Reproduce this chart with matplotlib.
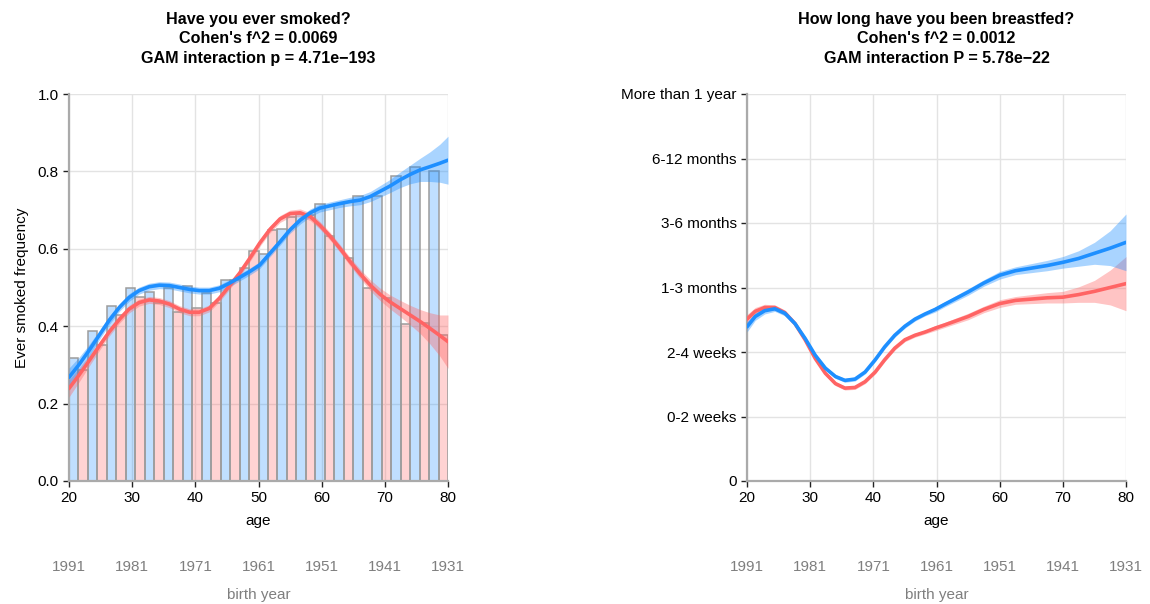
import numpy as np
import matplotlib
matplotlib.use("Agg")
import matplotlib.pyplot as plt

plt.rcParams['font.family'] = ['Liberation Sans', 'DejaVu Sans']

# ---------------- data: left panel ----------------
bin_starts = [20, 23, 26, 29, 32, 35, 38, 41, 44, 47, 50, 53, 56, 59, 62, 65, 68, 71, 74, 77]
bar_blue = [0.317, 0.388, 0.452, 0.500, 0.489, 0.498, 0.504, 0.485, 0.519, 0.550,
            0.587, 0.650, 0.690, 0.716, 0.716, 0.737, 0.736, 0.788, 0.812, 0.802]
bar_pink = [0.287, 0.351, 0.430, 0.475, 0.460, 0.437, 0.448, 0.459, 0.520, 0.594,
            0.649, 0.683, 0.687, 0.633, 0.575, 0.498, 0.472, 0.406, 0.409, 0.377]

smk_age = [20, 21.6, 23.2, 24.8, 26.4, 28, 29.5, 31.1, 32.7, 34.3, 35.9, 37.5, 39.1, 40.6,
           42.2, 43.8, 45.4, 47, 48.6, 50.2, 51.8, 53.4, 55, 56.6, 58.2, 59.7, 61.3, 62.9,
           64.5, 66.1, 67.7, 69.2, 70.8, 72.4, 74, 75.6, 77.1, 78.7, 80]
smk_blue = [0.268, 0.301, 0.338, 0.377, 0.416, 0.449, 0.474, 0.492, 0.502, 0.506, 0.505,
            0.500, 0.495, 0.492, 0.492, 0.498, 0.511, 0.526, 0.541, 0.558, 0.588, 0.618,
            0.649, 0.674, 0.693, 0.705, 0.711, 0.717, 0.722, 0.726, 0.735, 0.748, 0.762,
            0.778, 0.792, 0.804, 0.812, 0.821, 0.829]
smk_blue_ci = [0.024, 0.019, 0.015, 0.012, 0.011, 0.010, 0.010,
               0.009, 0.009, 0.009, 0.009, 0.009, 0.009, 0.009, 0.009,
               0.009, 0.009, 0.009, 0.009, 0.009, 0.009, 0.009, 0.009,
               0.010, 0.010, 0.010, 0.010, 0.010,
               0.011, 0.012, 0.013, 0.015, 0.017, 0.020, 0.024, 0.030, 0.038, 0.049, 0.062]
smk_red = [0.239, 0.274, 0.311, 0.349, 0.386, 0.418, 0.444, 0.461, 0.468, 0.465, 0.457,
           0.444, 0.436, 0.436, 0.446, 0.472, 0.504, 0.537, 0.575, 0.615, 0.650, 0.677,
           0.691, 0.693, 0.683, 0.661, 0.633, 0.601, 0.567, 0.535, 0.506, 0.483, 0.463,
           0.446, 0.429, 0.412, 0.395, 0.376, 0.360]
smk_red_ci = [0.022, 0.018, 0.014, 0.012, 0.011, 0.010, 0.010,
              0.009, 0.009, 0.009, 0.009, 0.009, 0.009, 0.009, 0.009,
              0.009, 0.009, 0.009, 0.009, 0.009, 0.009, 0.009, 0.009,
              0.010, 0.010, 0.010, 0.010, 0.010,
              0.011, 0.012, 0.014, 0.016, 0.018, 0.021, 0.025, 0.031, 0.040, 0.053, 0.069]

# ---------------- data: right panel ----------------
bf_age = [20, 21.3, 22.8, 24.4, 26, 27.6, 29.2, 30.8, 32.4, 34, 35.5, 37.1, 38.7, 40.3,
          41.8, 43.4, 45, 46.6, 48.2, 49.8, 51.3, 55, 57.5, 60, 62.5, 65, 67.5, 70, 72.5,
          75, 77.5, 80]
bf_blue = [2.39, 2.55, 2.64, 2.67, 2.60, 2.44, 2.21, 1.95, 1.75, 1.62, 1.56, 1.58, 1.69,
           1.88, 2.08, 2.26, 2.40, 2.51, 2.59, 2.66, 2.74, 2.93, 3.07, 3.19, 3.26, 3.30,
           3.34, 3.39, 3.45, 3.53, 3.61, 3.70]
bf_blue_ci = [0.08, 0.06, 0.05, 0.04, 0.04, 0.03, 0.03, 0.03, 0.03, 0.03, 0.03, 0.03, 0.03,
              0.03, 0.03, 0.03, 0.03, 0.03, 0.03, 0.04, 0.04, 0.05, 0.05, 0.06, 0.06, 0.07,
              0.08, 0.09, 0.12, 0.17, 0.27, 0.44]
bf_red = [2.51, 2.63, 2.69, 2.69, 2.61, 2.44, 2.19, 1.90, 1.67, 1.51, 1.44, 1.45, 1.54,
          1.69, 1.88, 2.06, 2.19, 2.26, 2.31, 2.37, 2.42, 2.55, 2.66, 2.75, 2.80, 2.82,
          2.84, 2.85, 2.89, 2.94, 3.00, 3.06]
bf_red_ci = [0.07, 0.06, 0.05, 0.04, 0.04, 0.03, 0.03, 0.03, 0.03, 0.03, 0.03, 0.03, 0.03,
             0.03, 0.03, 0.03, 0.03, 0.03, 0.03, 0.04, 0.04, 0.05, 0.05, 0.06, 0.06, 0.07,
             0.08, 0.09, 0.12, 0.17, 0.27, 0.42]
bf_levels = ['0', '0-2 weeks', '2-4 weeks', '1-3 months', '3-6 months', '6-12 months',
             'More than 1 year']

age_ticks = [20, 30, 40, 50, 60, 70, 80]
ref_year = 2011

titles = ["Have you ever smoked?\nCohen's f^2 = 0.0069\nGAM interaction p = 4.71e\u2212193",
          "How long have you been breastfed?\nCohen's f^2 = 0.0012\nGAM interaction P = 5.78e\u221222"]

BLUE = '#1E8FFF'
RED = '#FF6464'

fig = plt.figure(figsize=(11.5, 6.04), dpi=100)
W, H = 1150, 604
ax1 = fig.add_axes([69 / W, 1 - 481 / H, 379 / W, 387 / H])
ax2 = fig.add_axes([747 / W, 1 - 481 / H, 379 / W, 387 / H])


def style(ax, title):
    ax.set_xlim(20, 80)
    ax.set_xticks(age_ticks)
    ax.grid(True, color='#e3e3e3', lw=1.0, zorder=0)
    ax.set_axisbelow(True)
    for s in ['top', 'right']:
        ax.spines[s].set_visible(False)
    for s in ['left', 'bottom']:
        ax.spines[s].set_color('#aaaaaa')
        ax.spines[s].set_linewidth(1.6)
    ax.tick_params(axis='both', colors='#222222', labelcolor='black', labelsize=11,
                   length=4, width=1)
    ax.set_xlabel('age', fontsize=11, labelpad=6)
    ax.set_title(title, fontsize=11.6, fontweight='bold', linespacing=1.36, pad=22.5)
    sec = ax.secondary_xaxis(-0.197, functions=(lambda a: ref_year - a, lambda y: ref_year - y))
    sec.set_xticks([ref_year - a for a in age_ticks])
    sec.set_xticklabels([str(ref_year - a) for a in age_ticks])
    sec.tick_params(length=0, labelsize=11, labelcolor='#7f7f7f', pad=2)
    sec.spines['bottom'].set_visible(False)
    sec.set_xlabel('birth year', fontsize=11, color='#7f7f7f', labelpad=10)


# left panel
bs = np.array(bin_starts, dtype=float)
ax1.bar(bs, bar_blue, width=1.5, align='edge', color=BLUE, alpha=0.28,
        edgecolor='none', zorder=1)
ax1.bar(bs + 1.5, bar_pink, width=1.5, align='edge', color=RED, alpha=0.28,
        edgecolor='none', zorder=1)
ax1.bar(bs, bar_blue, width=1.5, align='edge', fill=False, edgecolor='#9c9c9c', lw=1.1, zorder=2)
ax1.bar(bs + 1.5, bar_pink, width=1.5, align='edge', fill=False, edgecolor='#9c9c9c', lw=1.1, zorder=2)

sa = np.array(smk_age)
for y, ci, c in [(smk_red, smk_red_ci, RED), (smk_blue, smk_blue_ci, BLUE)]:
    y = np.array(y); ci = np.array(ci)
    ax1.fill_between(sa, y - ci, y + ci, color=c, alpha=0.38, lw=0, zorder=3)
    ax1.plot(sa, y, color=c, lw=2.6, zorder=4, solid_capstyle='round', solid_joinstyle='round')
ax1.set_ylim(0, 1)
ax1.set_yticks([0, 0.2, 0.4, 0.6, 0.8, 1.0])
ax1.set_yticklabels(['0.0', '0.2', '0.4', '0.6', '0.8', '1.0'])
ax1.set_ylabel('Ever smoked frequency', fontsize=11, labelpad=6)
style(ax1, titles[0])

# right panel
ba = np.array(bf_age)
for y, ci, c in [(bf_red, bf_red_ci, RED), (bf_blue, bf_blue_ci, BLUE)]:
    y = np.array(y); ci = np.array(ci)
    ax2.fill_between(ba, y - ci, y + ci, color=c, alpha=0.38, lw=0, zorder=3)
    ax2.plot(ba, y, color=c, lw=2.6, zorder=4, solid_capstyle='round', solid_joinstyle='round')
ax2.set_ylim(0, 6)
ax2.set_yticks(range(len(bf_levels)))
ax2.set_yticklabels(bf_levels)
style(ax2, titles[1])

fig.savefig('out.png', dpi=100)
